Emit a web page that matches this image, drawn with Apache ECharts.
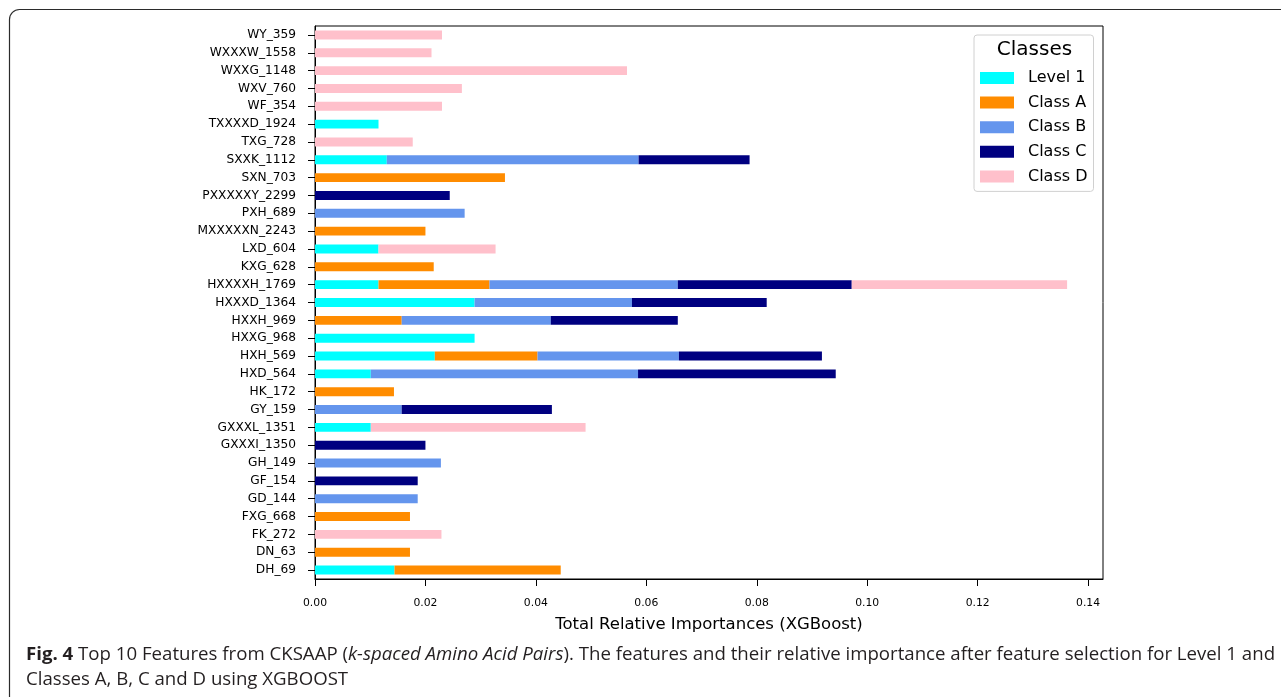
<!DOCTYPE html>
<html>
<head>
<meta charset="utf-8">
<script src="https://cdn.jsdelivr.net/npm/echarts@6/dist/echarts.min.js"></script>
<style>
  html, body { margin: 0; padding: 0; background: #fff; }
  #chart { width: 1281px; height: 697px; }
</style>
</head>
<body>
<div id="chart"></div>
<script>
// Feature names, listed top to bottom
const features = [
  'WY_359', 'WXXXW_1558', 'WXXG_1148', 'WXV_760', 'WF_354', 'TXXXXD_1924',
  'TXG_728', 'SXXK_1112', 'SXN_703', 'PXXXXXY_2299', 'PXH_689', 'MXXXXXN_2243',
  'LXD_604', 'KXG_628', 'HXXXXH_1769', 'HXXXD_1364', 'HXXH_969', 'HXXG_968',
  'HXH_569', 'HXD_564', 'HK_172', 'GY_159', 'GXXXL_1351', 'GXXXI_1350',
  'GH_149', 'GF_154', 'GD_144', 'FXG_668', 'FK_272', 'DN_63', 'DH_69'
];

// Relative importance contributed by each class (0 = feature not selected)
const level1 = [0, 0, 0, 0, 0, 0.0115, 0, 0.0130, 0, 0, 0, 0,
  0.0115, 0, 0.0115, 0.0289, 0, 0.0289, 0.0217, 0.0101, 0, 0, 0.0101, 0,
  0, 0, 0, 0, 0, 0, 0.0144];
const classA = [0, 0, 0, 0, 0, 0, 0, 0, 0.0344, 0, 0, 0.0200,
  0, 0.0215, 0.0201, 0, 0.0157, 0, 0.0186, 0, 0.0143, 0, 0, 0,
  0, 0, 0, 0.0172, 0, 0.0172, 0.0301];
const classB = [0, 0, 0, 0, 0, 0, 0, 0.0456, 0, 0, 0.0271, 0,
  0, 0, 0.0341, 0.0285, 0.0270, 0, 0.0256, 0.0484, 0, 0.0157, 0, 0,
  0.0228, 0, 0.0186, 0, 0, 0, 0];
const classC = [0, 0, 0, 0, 0, 0, 0, 0.0201, 0, 0.0244, 0, 0,
  0, 0, 0.0315, 0.0244, 0.0230, 0, 0.0259, 0.0358, 0, 0.0272, 0, 0.0200,
  0, 0.0186, 0, 0, 0, 0, 0];
const classD = [0.0230, 0.0211, 0.0565, 0.0266, 0.0230, 0, 0.0177, 0, 0, 0, 0, 0,
  0.0212, 0, 0.0390, 0, 0, 0, 0, 0, 0, 0, 0.0389, 0,
  0, 0, 0, 0, 0.0229, 0, 0];

const classNames = ['Level 1', 'Class A', 'Class B', 'Class C', 'Class D'];
const classValues = [level1, classA, classB, classC, classD];
const classColors = ['#00ffff', '#ff8c00', '#6495ed', '#000080', '#ffc0cb'];

const xTicks = [0, 0.02, 0.04, 0.06, 0.08, 0.10, 0.12, 0.14];

const chart = echarts.init(document.getElementById('chart'), null, { renderer: 'canvas' });

const series = classNames.map((name, i) => ({
  name: name,
  type: 'bar',
  stack: 'total',
  barWidth: '50%',
  itemStyle: { color: classColors[i] },
  data: classValues[i].map(v => (v > 0 ? v : '-'))
}));

const plotFont = '"DejaVu Sans", sans-serif';
const capFont = '"Open Sans", "Noto Sans", sans-serif';

chart.setOption({
  animation: false,
  grid: {
    left: 315, top: 26, width: 788, height: 553,
    show: true, borderColor: '#000', borderWidth: 1, backgroundColor: 'transparent'
  },
  xAxis: {
    type: 'value',
    min: 0,
    max: 0.1427,
    interval: 0.02,
    splitLine: { show: false },
    axisLine: { show: true, lineStyle: { color: '#000', width: 1 } },
    axisTick: { show: true, length: 7, lineStyle: { color: '#000' } },
    axisLabel: {
      showMaxLabel: false,
      margin: 19,
      color: '#000',
      fontSize: 10.8,
      fontFamily: plotFont,
      formatter: v => {
        const hit = xTicks.find(t => Math.abs(t - v) < 1e-9);
        return hit === undefined ? '' : hit.toFixed(2);
      }
    },
    name: 'Total Relative Importances (XGBoost)',
    nameLocation: 'middle',
    nameGap: 37,
    nameTextStyle: { color: '#000', fontSize: 16.5, fontFamily: plotFont }
  },
  yAxis: {
    type: 'category',
    data: features,
    inverse: true,
    axisLine: { show: true, lineStyle: { color: '#000', width: 1 } },
    axisTick: { show: true, alignWithLabel: true, length: 7, lineStyle: { color: '#000' } },
    axisLabel: { color: '#000', fontSize: 12.2, fontFamily: plotFont, margin: 19 },
    splitLine: { show: false }
  },
  legend: {
    orient: 'vertical',
    left: 974,
    top: 35,
    itemWidth: 34,
    itemHeight: 12,
    itemGap: 8.6,
    padding: [35, 6, 7, 6],
    borderColor: '#d0d0d0',
    borderWidth: 1,
    borderRadius: 3,
    backgroundColor: '#fff',
    icon: 'rect',
    textStyle: {
      color: '#000', fontSize: 16, lineHeight: 16, fontFamily: plotFont,
      padding: [0, 0, 0, 9]
    },
    data: classNames
  },
  graphic: [
    {
      // frame round the figure and caption
      type: 'rect',
      shape: { x: 9.5, y: 9.5, width: 1320, height: 740, r: 10 },
      style: { fill: 'none', stroke: '#2b2b2b', lineWidth: 1.2 },
      z: -10
    },
    {
      type: 'text',
      x: 1034.5, y: 50,
      style: {
        text: 'Classes', fontSize: 20, fontFamily: plotFont, fill: '#000',
        align: 'center', verticalAlign: 'middle'
      },
      z: 100
    },
    {
      type: 'text',
      x: 26, y: 643,
      scaleX: 1.065,
      style: {
        rich: {
          b: { fontWeight: 'bold', fontSize: 17.5, fontFamily: capFont, fill: '#231f20' },
          n: { fontSize: 17.5, fontFamily: capFont, fill: '#231f20' },
          i: { fontStyle: 'italic', fontSize: 17.5, fontFamily: capFont, fill: '#231f20' }
        },
        text: '{b|Fig. 4}{n| Top 10 Features from CKSAAP (}{i|k-spaced Amino Acid Pairs}{n|). The features and their relative importance after feature selection for Level 1 and}\n{n|Classes A, B, C and D using XGBOOST}',
        lineHeight: 25
      }
    }
  ],
  series: series
});
</script>
</body>
</html>
